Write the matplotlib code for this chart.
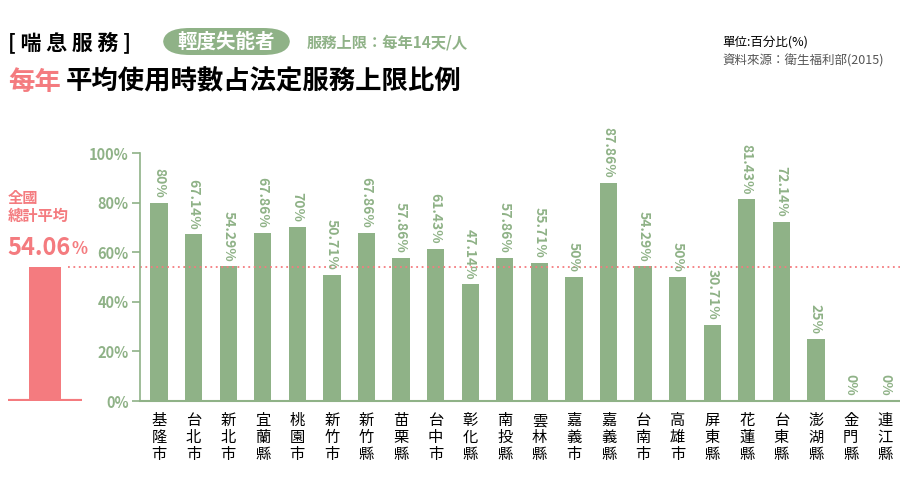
import matplotlib
matplotlib.use("Agg")
import matplotlib.pyplot as plt
from matplotlib.patches import FancyBboxPatch
import numpy as np

plt.rcParams["font.family"] = ["Noto Sans CJK TC", "Noto Sans CJK JP", "Noto Sans CJK SC", "DejaVu Sans"]

counties = ["基隆市", "台北市", "新北市", "宜蘭縣", "桃園市", "新竹市", "新竹縣", "苗栗縣",
            "台中市", "彰化縣", "南投縣", "雲林縣", "嘉義市", "嘉義縣", "台南市", "高雄市",
            "屏東縣", "花蓮縣", "台東縣", "澎湖縣", "金門縣", "連江縣"]
values = [80, 67.14, 54.29, 67.86, 70, 50.71, 67.86, 57.86, 61.43, 47.14, 57.86, 55.71,
          50, 87.86, 54.29, 50, 30.71, 81.43, 72.14, 25, 0, 0]
labels = ["80%", "67.14%", "54.29%", "67.86%", "70%", "50.71%", "67.86%", "57.86%", "61.43%",
          "47.14%", "57.86%", "55.71%", "50%", "87.86%", "54.29%", "50%", "30.71%", "81.43%",
          "72.14%", "25%", "0%", "0%"]
national_avg = 54.06
yticks = [0, 20, 40, 60, 80, 100]

GREEN = "#8fb287"
PINK = "#f47b7f"
W, H = 900, 500

fig = plt.figure(figsize=(9, 5), dpi=100)

# main axes
ax = fig.add_axes([140 / W, 99 / H, 760 / W, 248 / H])
x = np.arange(len(counties))
ax.bar(x, values, 0.5, color=GREEN)
for xi, v, lab in zip(x, values, labels):
    ax.text(xi, v + 2, lab, rotation=-90, ha="center", va="bottom", color=GREEN,
            fontsize=10, fontweight="bold", clip_on=False)
ax.axhline(national_avg, color=PINK, ls=(0, (1, 2)), lw=1.3)
ax.set_xlim(-0.55, len(counties) - 0.57)
ax.set_ylim(0, 100)
ax.set_yticks(yticks)
ax.set_yticklabels([f"{t}%" for t in yticks], color=GREEN, fontsize=10.5, fontweight="bold")
ax.set_xticks(x)
ax.set_xticklabels(["\n".join(c) for c in counties], fontsize=11, linespacing=1.0, va="top")
ax.tick_params(axis="x", length=0, pad=8)
ax.tick_params(axis="y", color=GREEN, length=6, width=1.2, pad=2)
for s in ["top", "right"]:
    ax.spines[s].set_visible(False)
ax.spines["left"].set_color(GREEN)
ax.spines["bottom"].set_color(GREEN)
ax.spines["left"].set_linewidth(1.2)
ax.spines["bottom"].set_linewidth(1.5)

# national average panel
axl = fig.add_axes([8 / W, 99 / H, 74 / W, 248 / H])
axl.bar([0], [national_avg], 0.43, color=PINK)
axl.set_xlim(-0.5, 0.5)
axl.set_ylim(0, 100)
axl.axis("off")
axl.axhline(0, color=PINK, lw=3)
axl2 = fig.add_axes([68 / W, 99 / H, 70 / W, 248 / H])
axl2.set_xlim(0, 1)
axl2.set_ylim(0, 100)
axl2.axis("off")
axl2.axhline(national_avg, color=PINK, ls=(0, (1, 2)), lw=1.3)
fig.text(8 / W, 1 - 207 / H, "全國\n總計平均", color=PINK, fontsize=11, fontweight="bold",
         va="center", linespacing=1.1)
fig.text(7 / W, 1 - 248 / H, "54.06", color=PINK, fontsize=17, fontweight="bold", va="center")
fig.text(72 / W, 1 - 249 / H, "%", color=PINK, fontsize=12, fontweight="bold", va="center")

# header
fig.text(8 / W, 1 - 42 / H, "[ 喘 息 服 務 ]", fontsize=15, fontweight="bold", va="center")
fig.patches.append(FancyBboxPatch((163 / W, 1 - 55 / H), 127 / W, 27 / H,
                                  boxstyle="round,pad=0,rounding_size=0.03",
                                  transform=fig.transFigure, fc=GREEN, ec="none"))
fig.text(226 / W, 1 - 42 / H, "輕度失能者", fontsize=14, fontweight="bold", color="white",
         ha="center", va="center")
fig.text(307 / W, 1 - 42 / H, "服務上限：每年14天/人", fontsize=11, fontweight="bold",
         color=GREEN, va="center")
fig.text(8 / W, 1 - 82 / H, "每年", fontsize=19, fontweight="bold", color=PINK, va="center")
fig.text(66 / W, 1 - 82 / H, "平均使用時數占法定服務上限比例", fontsize=19, fontweight="bold",
         color="black", va="center")
fig.text(722 / W, 1 - 42 / H, "單位:百分比(%)", fontsize=9, va="center")
fig.text(722 / W, 1 - 61 / H, "資料來源：衛生福利部(2015)", fontsize=9, color="#555555", va="center")

fig.savefig("out.png", dpi=100)
